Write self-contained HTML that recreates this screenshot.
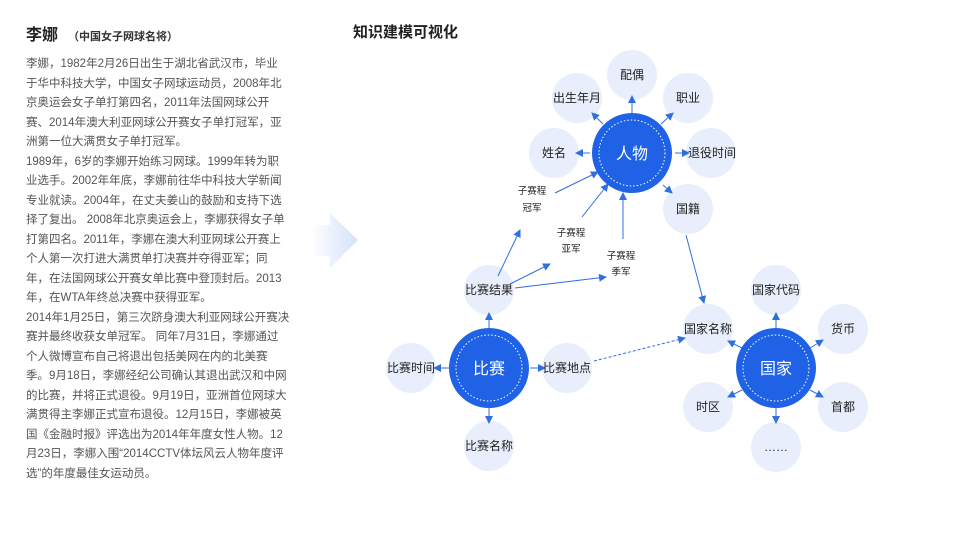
<!DOCTYPE html>
<html><head><meta charset="utf-8"><style>
body{margin:0;width:962px;height:541px;background:#fff;overflow:hidden;position:relative;font-family:"Liberation Sans","Noto Sans CJK SC",sans-serif}
.t{position:absolute;left:26px;top:21px;font-size:16px;color:#222;font-weight:bold}
.t span{font-size:11px;font-weight:bold;margin-left:10px;color:#333}
.p{position:absolute;left:26px;top:55px;width:290px;font-size:11.5px;line-height:19.5px;color:#555;white-space:nowrap}
.h{position:absolute;left:353px;top:21px;font-size:15px;color:#222;font-weight:bold}
svg{position:absolute;left:0;top:0}
</style></head><body>
<div class="t">李娜<span>（中国女子网球名将）</span></div>
<div class="p">李娜，1982年2月26日出生于湖北省武汉市，毕业<br>于华中科技大学，中国女子网球运动员，2008年北<br>京奥运会女子单打第四名，2011年法国网球公开<br>赛、2014年澳大利亚网球公开赛女子单打冠军，亚<br>洲第一位大满贯女子单打冠军。<br>1989年，6岁的李娜开始练习网球。1999年转为职<br>业选手。2002年年底，李娜前往华中科技大学新闻<br>专业就读。2004年，在丈夫姜山的鼓励和支持下选<br>择了复出。 2008年北京奥运会上，李娜获得女子单<br>打第四名。2011年，李娜在澳大利亚网球公开赛上<br>个人第一次打进大满贯单打决赛并夺得亚军；同<br>年，在法国网球公开赛女单比赛中登顶封后。2013<br>年，在WTA年终总决赛中获得亚军。<br>2014年1月25日，第三次跻身澳大利亚网球公开赛决<br>赛并最终收获女单冠军。 同年7月31日，李娜通过<br>个人微博宣布自己将退出包括美网在内的北美赛<br>季。9月18日，李娜经纪公司确认其退出武汉和中网<br>的比赛，并将正式退役。9月19日，亚洲首位网球大<br>满贯得主李娜正式宣布退役。12月15日，李娜被英<br>国《金融时报》评选出为2014年年度女性人物。12<br>月23日，李娜入围“2014CCTV体坛风云人物年度评<br>选”的年度最佳女运动员。</div>
<div class="h">知识建模可视化</div>
<svg width="962" height="541" viewBox="0 0 962 541">
<defs>
<marker id="a" markerWidth="8" markerHeight="8" refX="7" refY="4" orient="auto" markerUnits="userSpaceOnUse"><path d="M0,0 L8,4 L0,8 Z" fill="#2f6fe0"/></marker>
<linearGradient id="g" x1="0" x2="1"><stop offset="0" stop-color="#fff"/><stop offset="1" stop-color="#d4e2fb"/></linearGradient>
</defs>
<path d="M310,225 L330,225 L330,213 L358,240 L330,268 L330,256 L310,256 Z" fill="url(#g)"/>
<g fill="#e8eefb">
<circle cx="632" cy="75" r="25"/><circle cx="577" cy="98" r="25"/><circle cx="688" cy="98" r="25"/>
<circle cx="554" cy="153" r="25"/><circle cx="711" cy="153" r="25"/><circle cx="688" cy="209" r="25"/>
<circle cx="489" cy="290" r="25"/><circle cx="411" cy="368" r="25"/><circle cx="567" cy="368" r="25"/><circle cx="489" cy="446" r="25"/>
<circle cx="708" cy="329" r="25"/><circle cx="776" cy="290" r="25"/><circle cx="843" cy="329" r="25"/><circle cx="843" cy="407" r="25"/><circle cx="708" cy="407" r="25"/><circle cx="776" cy="447" r="25"/>
</g>
<g stroke="#2f6fe0" stroke-width="1" fill="none" marker-end="url(#a)">
<line x1="632" y1="113" x2="632" y2="96"/>
<line x1="603" y1="124" x2="592" y2="113"/>
<line x1="661" y1="124" x2="673" y2="113"/>
<line x1="590" y1="153" x2="576" y2="153"/>
<line x1="675" y1="153" x2="689" y2="153"/>
<line x1="663" y1="185" x2="672" y2="193"/>
<line x1="489" y1="328" x2="489" y2="313"/>
<line x1="449" y1="368" x2="434" y2="368"/>
<line x1="530" y1="368" x2="545" y2="368"/>
<line x1="489" y1="408" x2="489" y2="423"/>
<line x1="776" y1="328" x2="776" y2="313"/>
<line x1="742" y1="348" x2="728" y2="341"/>
<line x1="810" y1="348" x2="823" y2="340"/>
<line x1="810" y1="390" x2="823" y2="397"/>
<line x1="742" y1="390" x2="728" y2="397"/>
<line x1="776" y1="408" x2="776" y2="423"/>
<line x1="498" y1="276" x2="520" y2="230"/>
<line x1="510" y1="284" x2="550" y2="264"/>
<line x1="515" y1="288" x2="606" y2="277"/>
<line x1="555" y1="193" x2="598" y2="172"/>
<line x1="582" y1="217" x2="608" y2="184"/>
<line x1="623" y1="239" x2="623" y2="193"/>
<line x1="686" y1="235" x2="704" y2="303"/>
<line x1="594" y1="361" x2="685" y2="338" stroke-dasharray="3,2"/>
</g>
<g fill="#1f62e6"><circle cx="632" cy="153" r="40"/><circle cx="489" cy="368" r="40"/><circle cx="776" cy="368" r="40"/></g>
<g stroke="#fff" stroke-width="1" stroke-dasharray="1.5,2" fill="none"><circle cx="632" cy="153" r="33"/><circle cx="489" cy="368" r="33"/><circle cx="776" cy="368" r="33"/></g>
<g font-family="Liberation Sans,Noto Sans CJK SC,sans-serif" text-anchor="middle" fill="#fff" font-size="16">
<text x="632" y="159">人物</text><text x="489" y="374">比赛</text><text x="776" y="374">国家</text></g>
<g font-family="Liberation Sans,Noto Sans CJK SC,sans-serif" text-anchor="middle" fill="#222" font-size="12">
<text x="632" y="79">配偶</text><text x="577" y="102">出生年月</text><text x="688" y="102">职业</text>
<text x="554" y="157">姓名</text><text x="712" y="157">退役时间</text><text x="688" y="213">国籍</text>
<text x="489" y="294">比赛结果</text><text x="411" y="372">比赛时间</text><text x="567" y="372">比赛地点</text><text x="489" y="450">比赛名称</text>
<text x="708" y="333">国家名称</text><text x="776" y="294">国家代码</text><text x="843" y="333">货币</text><text x="843" y="411">首都</text><text x="708" y="411">时区</text><text x="776" y="451">……</text>
</g>
<g font-family="Liberation Sans,Noto Sans CJK SC,sans-serif" text-anchor="middle" fill="#222" font-size="9.5">
<text x="532" y="194">子赛程</text><text x="532" y="211">冠军</text>
<text x="571" y="236">子赛程</text><text x="571" y="252">亚军</text>
<text x="621" y="259">子赛程</text><text x="621" y="275">季军</text>
</g>
</svg>
</body></html>
